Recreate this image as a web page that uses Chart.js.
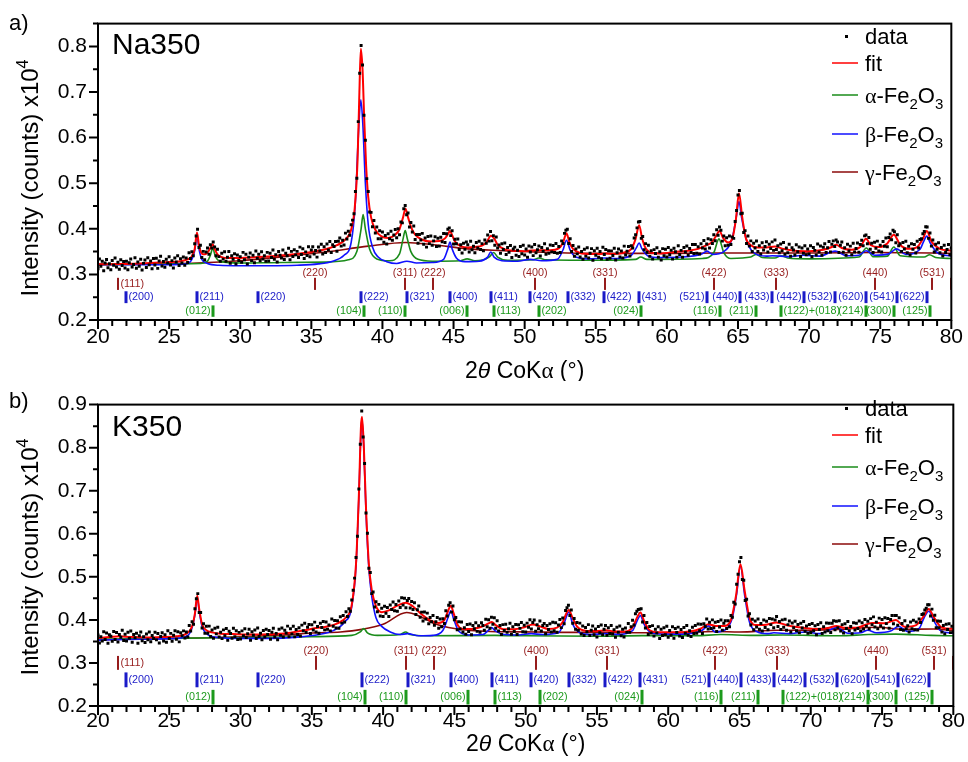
<!DOCTYPE html>
<html>
<head>
<meta charset="utf-8">
<script src="https://cdn.jsdelivr.net/npm/chart.js@4.4.0/dist/chart.umd.min.js"></script>
<style>
  html, body { margin: 0; padding: 0; background: #fff; }
  #wrap { width: 968px; height: 762px; }
  canvas { display: block; }
</style>
</head>
<body>
<div id="wrap">
  <canvas id="na" width="968" height="381"></canvas>
  <canvas id="k" width="968" height="381"></canvas>
</div>
<script>
// XRD scans, 2θ (CoKα) from 20° to 80° in 0.1° steps, raw counts
const scanStart = 20, scanStep = 0.1;

const na350Counts = [
  3125,3340,3180,3290,3080,3250,3325,3145,3235,3100,3307,3202,3362,3162,3267,3113,3319,3194,3284,3140,
  3290,3101,3257,3338,3160,3217,3367,3134,3272,3179,3330,3096,3242,3317,3152,3363,3209,3295,3126,3349,
  3205,3352,3132,3293,3397,3182,3284,3159,3331,3248,3385,3207,3302,3138,3359,3270,3408,3195,3344,3248,
  3380,3200,3360,3260,3475,3350,3495,3410,3670,3840,3990,3590,3640,3370,3505,3320,3490,3580,3440,3650,
  3580,3710,3600,3410,3550,3390,3290,3465,3335,3495,3290,3377,3500,3245,3410,3330,3455,3230,3425,3305,
  3390,3266,3483,3319,3441,3227,3379,3470,3302,3418,3255,3512,3354,3441,3298,3495,3337,3409,3286,3483,
  3295,3463,3370,3533,3330,3433,3270,3503,3420,3358,3535,3328,3465,3408,3575,3323,3505,3393,3540,3428,
  3505,3369,3598,3437,3561,3350,3494,3413,3607,3386,3535,3606,3447,3523,3379,3600,3516,3662,3448,3604,
  3480,3665,3535,3720,3480,3652,3610,3723,3510,3725,3800,3620,3750,3645,3905,3775,3945,3860,4090,4190,
  4330,4820,5110,6350,7410,8020,7590,6490,5940,5100,4820,4370,4360,4045,4180,3910,4040,3780,3955,3780,
  3930,3705,3855,3665,3890,3780,3945,3750,3865,3985,3805,4000,3870,4150,4130,4440,4510,4310,4345,4040,
  4140,3930,4060,3765,3875,3685,3875,3753,3900,3662,3800,3598,3830,3675,3840,3640,3735,3827,3610,3793,
  3620,3815,3715,3895,3700,3890,3990,4020,3850,3955,3665,3770,3670,3775,3545,3650,3470,3685,3550,3710,
  3650,3492,3729,3541,3618,3475,3701,3577,3728,3544,3675,3520,3755,3685,3865,3730,3940,3740,3850,3640,
  3820,3580,3645,3465,3670,3545,3690,3437,3590,3485,3635,3372,3555,3598,3422,3530,3394,3613,3452,3641,
  3425,3558,3376,3624,3492,3600,3412,3658,3474,3540,3625,3405,3590,3510,3670,3440,3565,3465,3647,3494,
  3635,3482,3680,3465,3610,3480,3735,3680,3900,3970,3990,3680,3780,3500,3635,3400,3560,3450,3600,3380,
  3502,3333,3550,3397,3585,3360,3465,3565,3310,3520,3420,3575,3375,3502,3344,3596,3438,3545,3330,3520,
  3353,3516,3414,3572,3315,3475,3555,3382,3513,3359,3620,3425,3510,3610,3405,3630,3580,3800,3870,4020,
  4150,4160,3790,3830,3540,3675,3485,3640,3395,3520,3335,3543,3456,3584,3377,3495,3315,3565,3410,3550,
  3380,3589,3433,3531,3335,3574,3497,3376,3630,3434,3527,3376,3590,3493,3622,3421,3569,3483,3657,3460,
  3655,3462,3605,3445,3670,3580,3745,3555,3665,3780,3580,3760,3680,3870,3740,3980,3860,4040,3970,3730,
  3840,3630,3805,3640,3840,3655,3820,3790,4160,4400,4740,4840,4330,4340,3920,3960,3680,3840,3620,3735,
  3500,3682,3580,3733,3500,3630,3450,3695,3535,3610,3715,3493,3662,3565,3713,3527,3755,3545,3630,3475,
  3665,3520,3700,3440,3580,3475,3660,3400,3585,3535,3425,3649,3498,3602,3391,3580,3464,3628,3432,3556,
  3450,3628,3386,3589,3527,3425,3668,3491,3624,3422,3595,3673,3481,3584,3722,3490,3660,3735,3610,3755,
  3710,3480,3640,3710,3485,3585,3420,3660,3515,3620,3430,3685,3490,3570,3690,3485,3655,3750,3630,3845,
  3865,3670,3810,3550,3685,3480,3705,3575,3730,3515,3640,3490,3720,3615,3800,3605,3810,3885,3760,3970,
  3935,3695,3870,3630,3670,3505,3700,3555,3725,3475,3615,3425,3670,3552,3655,3467,3725,3580,3765,3780,
  3890,3940,4045,4040,3790,3910,3620,3755,3490,3660,3550,3695,3475,3590,3405,3640,3480,3545,3657,3430,
  3580
];

const k350Counts = [
  3650,3462,3610,3507,3725,3547,3695,3458,3655,3618,3501,3729,3547,3705,3488,3660,3597,3759,3521,3668,
  3510,3713,3571,3740,3479,3663,3587,3691,3455,3629,3718,3517,3611,3475,3670,3540,3721,3492,3638,3569,
  3715,3536,3682,3463,3614,3700,3512,3654,3481,3748,3570,3687,3504,3641,3748,3550,3722,3489,3701,3633,
  3745,3580,3720,3600,3870,3740,3955,3900,4260,4490,4610,4170,4170,3810,3910,3690,3850,3690,3855,3615,
  3765,3575,3805,3675,3830,3601,3712,3565,3768,3631,3800,3524,3738,3682,3576,3805,3610,3750,3545,3710,
  3555,3745,3630,3795,3590,3680,3780,3525,3725,3645,3765,3570,3810,3615,3690,3540,3755,3600,3785,3660,
  3752,3549,3711,3808,3605,3687,3539,3782,3640,3810,3605,3760,3695,3855,3610,3795,3670,3850,3610,3775,
  3660,3816,3627,3878,3749,3920,3706,3827,3893,3684,3885,3764,3948,3717,3846,3690,3922,3824,3961,3768,
  3950,3780,3880,3745,4020,3850,3985,3810,3980,3805,4075,3925,4100,3950,4190,4080,4260,4200,4460,4690,
  4970,5450,5940,7040,8080,8850,8250,7630,6480,6010,5200,5100,4610,4650,4300,4420,4190,4360,4090,4270,
  4080,4315,4155,4290,4080,4345,4240,4415,4210,4355,4200,4437,4289,4516,4343,4500,4280,4450,4495,4275,
  4425,4240,4400,4125,4235,4320,4060,4180,3975,4185,4020,4157,3909,4055,3958,4101,3875,3955,4053,3805,
  4020,3840,4025,3915,4210,4090,4340,4400,4180,4320,4005,4055,3770,3955,3790,3950,3720,3815,3665,3895,
  3730,3905,3655,3870,3795,3935,3733,3866,3714,3935,3870,3761,4017,3840,4005,3805,4060,3900,4050,3805,
  3980,3740,3870,3660,3890,3755,3900,3710,3795,3920,3665,3840,3730,3892,3659,3886,3803,3940,3727,3874,
  3720,3925,3830,4005,3790,3940,3995,3735,3885,3795,3975,3740,3870,3915,3680,3870,3775,3910,3720,3945,
  3750,3935,3715,3880,4010,3820,4045,3910,4220,4280,4340,4100,4230,3920,4030,3780,3940,3760,3925,3670,
  3860,3635,3825,3725,3890,3635,3757,3860,3655,3790,3600,3848,3701,3879,3657,3780,3868,3640,3817,3683,
  3870,3671,3772,3598,3829,3715,3860,3630,3785,3605,3810,3710,3915,3710,3840,3990,3880,4145,4200,4240,
  4250,4260,3950,4100,3810,3940,3660,3845,3695,3867,3625,3781,3697,3839,3570,3780,3635,3815,3655,3850,
  3595,3751,3642,3843,3574,3800,3706,3832,3623,3779,3590,3822,3689,3871,3643,3750,3613,3831,3685,3870,
  3690,3905,3750,3900,3685,3910,3845,4020,3790,3945,3800,4000,3815,3945,3730,3965,3835,3995,3760,3920,
  3980,3800,3980,3840,4100,4060,4410,4370,4830,5060,5350,5450,4940,4920,4450,4480,4090,4145,3880,4015,
  3770,3975,3835,4020,3780,3915,3740,3995,3825,3970,3770,4030,3890,4020,3815,3995,4080,3845,3960,3775,
  4000,3830,4015,3760,3890,3975,3720,3930,3815,3970,3750,3891,3702,3923,3814,3960,3736,3857,3688,3894,
  3705,3918,3746,3864,3657,3895,3777,3934,3686,3843,3720,3930,3750,3920,3705,3920,3980,3768,3970,3820,
  3980,3740,3890,3695,3910,3800,3965,3750,3845,3680,3935,3765,3920,3800,3975,3745,3935,3790,4010,3855,
  3970,3792,4029,3890,4070,3834,3948,3792,4041,3865,4008,3811,4050,3913,4031,3805,4010,4100,3910,4100,
  4100,3875,4050,3775,3915,3760,3980,3793,3866,3719,3950,3793,3991,3769,3950,3765,4020,3940,4125,4140,
  4230,4270,4350,4350,4090,4250,3990,4110,3820,3975,3820,3970,3720,3870,3675,3900,3775,3912,3704,3852,
  3720
];

// fitted profiles: [2θ, counts]
const na350Fit = [
  [20,3220],[21,3225],[22,3230],[23,3240],[24,3255],[25,3270],[25.8,3290],[26.3,3330],[26.6,3400],[26.8,3560],
  [26.96,3920],[27.1,3640],[27.3,3460],[27.5,3440],[27.75,3500],[27.9,3580],[28.06,3660],[28.2,3560],[28.4,3440],
  [28.7,3380],[29.2,3360],[30,3360],[31,3375],[32,3395],[33,3420],[34,3450],[35,3490],[36,3550],[36.8,3640],
  [37.4,3770],[37.8,3980],[38.05,4450],[38.25,5500],[38.38,7000],[38.48,7950],[38.6,7500],[38.72,6400],[38.85,5400],
  [39,4700],[39.2,4250],[39.5,3980],[39.9,3840],[40.4,3800],[40.9,3870],[41.2,3990],[41.45,4250],[41.62,4440],
  [41.8,4250],[42,4050],[42.3,3870],[42.8,3760],[43.4,3720],[44,3730],[44.4,3790],[44.6,3880],[44.75,3950],
  [44.9,3860],[45.1,3720],[45.5,3620],[46,3590],[46.5,3600],[47,3630],[47.35,3720],[47.62,3850],[47.85,3790],
  [48.1,3650],[48.6,3550],[49.2,3520],[50,3510],[50.5,3525],[51,3530],[51.8,3530],[52.4,3570],[52.7,3700],
  [52.94,3900],[53.15,3700],[53.4,3560],[53.9,3470],[54.6,3450],[55.2,3450],[55.7,3460],[56.3,3450],[57,3480],
  [57.5,3560],[57.8,3780],[58.05,4080],[58.25,3800],[58.5,3580],[59,3470],[59.6,3460],[60.5,3490],[61.5,3520],
  [62.2,3560],[62.8,3640],[63.2,3720],[63.45,3840],[63.7,3950],[63.95,3800],[64.3,3700],[64.6,3780],[64.85,4200],
  [65.07,4780],[65.3,4250],[65.55,3800],[65.9,3640],[66.4,3590],[67,3590],[67.6,3610],[68.2,3560],[69,3520],
  [70,3510],[71,3540],[71.6,3600],[71.9,3650],[72.3,3580],[73,3540],[73.6,3600],[74,3780],[74.35,3640],
  [74.9,3600],[75.5,3680],[75.96,3870],[76.4,3650],[77,3560],[77.6,3600],[78,3780],[78.28,3950],[78.6,3720],
  [79.2,3560],[80,3520]
];
const na350Alpha = [
  [20,3215],[24,3225],[27.2,3240],[27.7,3290],[27.9,3420],[28.07,3570],[28.25,3400],[28.6,3280],[30,3250],
  [33,3260],[36,3270],[37.6,3320],[38.2,3500],[38.5,4000],[38.64,4310],[38.8,4000],[39.1,3550],[39.6,3340],
  [40.5,3300],[41.2,3450],[41.45,3780],[41.6,3960],[41.75,3780],[42,3500],[42.5,3330],[43.5,3290],[45.5,3300],
  [45.95,3340],[46.5,3300],[47.5,3380],[47.82,3480],[48.1,3380],[48.8,3310],[50.6,3320],[51,3360],[51.5,3320],
  [54,3310],[57.8,3330],[58.16,3380],[58.6,3330],[62.5,3350],[63.3,3480],[63.66,3780],[64,3480],[64.5,3350],
  [65.9,3380],[66.27,3440],[66.7,3370],[67.6,3360],[68.03,3410],[68.5,3360],[70,3340],[73.5,3380],[74.03,3580],
  [74.5,3390],[75.5,3400],[75.96,3600],[76.4,3410],[78.1,3380],[78.47,3430],[78.9,3370],[80,3350]
];
const na350Beta = [
  [20,3215],[24,3210],[26.2,3230],[26.6,3330],[26.8,3520],[26.96,3860],[27.1,3560],[27.3,3330],[27.7,3240],
  [28.5,3200],[30,3190],[32,3190],[34,3200],[35.5,3230],[36.5,3290],[37.3,3420],[37.8,3700],[38.1,4600],
  [38.3,6000],[38.48,6830],[38.62,6300],[38.8,5000],[39,4100],[39.3,3600],[39.7,3380],[40.3,3280],[41,3240],
  [41.72,3290],[42.4,3250],[43.5,3260],[44.3,3330],[44.6,3560],[44.75,3710],[44.9,3560],[45.2,3360],[45.8,3280],
  [46.8,3290],[47.4,3380],[47.62,3490],[47.85,3380],[48.4,3300],[49.5,3290],[50.38,3330],[51.2,3300],[52.3,3330],
  [52.7,3540],[52.94,3750],[53.2,3530],[53.6,3380],[54.5,3340],[55.58,3360],[56.5,3350],[57.5,3420],[57.85,3580],
  [58.05,3690],[58.25,3560],[58.7,3400],[59.5,3370],[61,3380],[62.4,3440],[62.83,3510],[63.2,3440],[64,3500],
  [64.6,3800],[64.9,4300],[65.07,4600],[65.25,4250],[65.6,3750],[66.1,3480],[67,3400],[67.41,3410],[68.5,3390],
  [69.63,3420],[70.7,3400],[71.83,3510],[72.6,3410],[73.5,3420],[74,3520],[74.6,3420],[75.6,3450],[76.15,3560],
  [76.8,3440],[77.8,3550],[78.05,3720],[78.28,3840],[78.5,3700],[79,3480],[80,3400]
];
const na350Gamma = [
  [20,3220],[24,3235],[27,3250],[30,3300],[33,3390],[36,3490],[39,3620],[41.65,3700],[43.6,3650],[46,3560],
  [48.5,3520],[50.75,3490],[53,3470],[55.7,3460],[58,3460],[60,3460],[63.3,3470],[65,3470],[67.6,3470],
  [70,3470],[74.6,3480],[78.6,3470],[80,3460]
];

const k350Fit = [
  [20,3580],[20.8,3600],[21.5,3620],[22.3,3600],[23.5,3590],[24.5,3600],[25.5,3620],[26.2,3680],[26.6,3850],
  [26.8,4150],[26.96,4560],[27.1,4250],[27.3,3900],[27.6,3760],[28,3710],[28.6,3680],[29.5,3670],[31,3660],
  [32.5,3670],[33.5,3700],[34.5,3760],[35.3,3810],[36,3840],[36.8,3920],[37.4,4060],[37.8,4350],[38.1,5300],
  [38.3,6900],[38.45,8500],[38.52,8720],[38.65,8000],[38.8,6600],[39,5300],[39.2,4700],[39.5,4320],[39.9,4180],
  [40.4,4220],[41,4330],[41.6,4400],[42.1,4310],[42.7,4130],[43.3,3990],[43.9,3930],[44.3,4000],[44.55,4200],
  [44.75,4330],[44.95,4150],[45.2,3900],[45.6,3790],[46.2,3790],[46.9,3840],[47.4,3920],[47.62,3950],[47.9,3880],
  [48.5,3780],[49.2,3780],[49.9,3830],[50.5,3890],[51,3850],[51.6,3790],[52.2,3820],[52.6,3950],[52.85,4150],
  [53.03,4230],[53.25,4080],[53.6,3850],[54.2,3750],[55,3740],[55.6,3760],[56.3,3730],[57,3730],[57.5,3830],
  [57.85,4080],[58.05,4170],[58.3,3980],[58.7,3760],[59.4,3710],[60.5,3710],[61.5,3730],[62.3,3800],[62.8,3900],
  [63.3,3860],[63.9,3860],[64.4,4000],[64.75,4550],[65.07,5290],[65.35,4700],[65.7,4050],[66.1,3880],[66.7,3880],
  [67.6,3940],[68.4,3870],[69.2,3830],[70.2,3790],[71.2,3810],[71.8,3860],[72.3,3820],[73.2,3820],[74.3,3930],
  [75.2,3920],[75.96,4000],[76.6,3840],[77.4,3880],[77.95,4100],[78.28,4250],[78.6,4080],[79.2,3820],[80,3790]
];
const k350Alpha = [
  [20,3550],[25,3570],[30,3590],[35,3610],[37.8,3640],[38.4,3720],[38.64,3800],[38.9,3700],[39.6,3640],
  [41.2,3660],[41.58,3720],[41.9,3660],[43,3630],[47.82,3640],[50,3630],[55,3620],[58.16,3635],[62,3630],
  [63.66,3660],[66,3640],[68.03,3650],[72,3630],[74.03,3660],[75.96,3670],[78.47,3640],[80,3630]
];
const k350Beta = [
  [20,3530],[23,3550],[25.5,3570],[26.3,3640],[26.6,3820],[26.8,4120],[26.96,4520],[27.1,4200],[27.3,3850],
  [27.7,3660],[28.5,3590],[30,3570],[32,3570],[34,3600],[35.5,3660],[36.5,3750],[37.3,3950],[37.8,4300],
  [38.1,5250],[38.3,6850],[38.45,8400],[38.52,8650],[38.65,7950],[38.8,6500],[39,5200],[39.2,4550],[39.5,4050],
  [39.9,3850],[40.5,3720],[41.2,3660],[41.72,3680],[42.5,3630],[43.5,3640],[44.2,3760],[44.55,4050],[44.75,4210],
  [44.95,4020],[45.3,3740],[46,3650],[47,3660],[47.4,3760],[47.62,3820],[47.85,3750],[48.5,3660],[49.5,3650],
  [50.38,3680],[51.2,3660],[52.3,3700],[52.7,3930],[53.03,4180],[53.3,3900],[53.8,3700],[54.6,3660],[55.58,3680],
  [56.5,3660],[57.5,3750],[57.85,4000],[58.05,4100],[58.3,3900],[58.8,3700],[59.6,3670],[61,3670],[62.3,3740],
  [62.83,3860],[63.3,3720],[64,3770],[64.5,4050],[64.8,4600],[65.07,5250],[65.35,4600],[65.7,3950],[66.2,3730],
  [67,3680],[67.41,3700],[68.5,3680],[69.63,3720],[70.6,3680],[71.83,3820],[72.6,3690],[73.5,3700],[74,3760],
  [74.6,3700],[75.6,3740],[76.15,3850],[76.8,3730],[77.6,3800],[77.95,4050],[78.28,4200],[78.6,4000],[79.1,3750],
  [80,3690]
];
const k350Gamma = [
  [20,3540],[23,3560],[27,3580],[30,3610],[33,3650],[35.3,3700],[37,3720],[38.5,3780],[40,3900],[41.65,4170],
  [42.6,4080],[43.5,3930],[45,3800],[47.5,3730],[50.75,3720],[53,3710],[55.7,3710],[58,3700],[60,3700],
  [63.3,3730],[65,3720],[67.6,3760],[70,3760],[72,3780],[74.6,3830],[76.5,3780],[78.6,3790],[80,3750]
];

// reference reflections (2θ for CoKα) and their indices
const alphaPos = [28.07, 38.70, 41.60, 45.95, 47.82, 51.00, 58.16, 63.70, 66.27, 68.03, 74.03, 75.96, 78.47];
const alphaHkl = ['(012)','(104)','(110)','(006)','(113)','(202)','(024)','(116)','(211)','(122)+(018)','(214)','(300)','(125)'];
const betaPos = [21.94, 26.96, 31.23, 38.49, 41.72, 44.75, 47.62, 50.38, 53.03, 55.58, 58.05, 62.83, 65.14, 67.41, 69.63, 71.83, 74.00, 76.15, 78.28];
const betaHkl = ['(200)','(211)','(220)','(222)','(321)','(400)','(411)','(420)','(332)','(422)','(431)','(521)','(440)','(433)','(442)','(532)','(620)','(541)','(622)'];
const gammaPos = [21.38, 35.28, 41.62, 43.57, 50.75, 55.68, 63.31, 67.64, 74.60, 78.65, 79.98];
const gammaHkl = ['(111)','(220)','(311)','(222)','(400)','(331)','(422)','(333)','(440)','(531)',''];

const SANS = '"Liberation Sans", Arial, sans-serif';
const SERIF = '"Liberation Serif", "Times New Roman", serif';
const RED = '#ff0000', GREEN = '#1a8c1a', BLUE = '#1010ff', DARKRED = '#8b0a0a';
const MARK = { alpha: '#1c9a1c', beta: '#1a1ac8', gamma: '#961c1c' };

function curve(pts) { return pts.map(p => ({ x: p[0], y: p[1] / 1e4 })); }
function scan(counts) {
  return counts.map((c, i) => ({ x: +(scanStart + i * scanStep).toFixed(2), y: c / 1e4 }));
}

// text runs: [text, kind] with kind '' | 'sub' | 'sup' | 'it' | 'gr'
function runFont(kind, size) {
  if (kind === 'sub' || kind === 'sup') return `${Math.round(size * 0.66)}px ${SANS}`;
  if (kind === 'it') return `italic ${size}px ${SANS}`;
  if (kind === 'gr') return `${size}px ${SERIF}`;
  return `${size}px ${SANS}`;
}
function runsWidth(ctx, runs, size) {
  let w = 0;
  runs.forEach(([t, k]) => { ctx.font = runFont(k, size); w += ctx.measureText(t).width; });
  return w;
}
function drawRuns(ctx, runs, x, y, size) {
  ctx.textBaseline = 'alphabetic';
  ctx.textAlign = 'left';
  runs.forEach(([t, k]) => {
    ctx.font = runFont(k, size);
    let dy = 0;
    if (k === 'sub') dy = size * 0.28;
    if (k === 'sup') dy = -size * 0.42;
    ctx.fillText(t, x, y + dy);
    x += ctx.measureText(t).width;
  });
}

const legendItems = [
  { kind: 'dot', runs: [['data', '']] },
  { color: RED, runs: [['fit', '']] },
  { color: GREEN, runs: [['α', 'gr'], ['-Fe', ''], ['2', 'sub'], ['O', ''], ['3', 'sub']] },
  { color: BLUE, runs: [['β', 'gr'], ['-Fe', ''], ['2', 'sub'], ['O', ''], ['3', 'sub']] },
  { color: DARKRED, runs: [['γ', 'gr'], ['-Fe', ''], ['2', 'sub'], ['O', ''], ['3', 'sub']] }
];

const decor = {
  id: 'decor',
  afterDraw(chart, args, o) {
    const { ctx, chartArea: a, scales: { x, y } } = chart;
    ctx.save();

    // reflection markers
    ctx.save();
    ctx.beginPath();
    ctx.rect(a.left, a.top, a.right - a.left, a.bottom - a.top);
    ctx.clip();
    const phases = [
      { pos: gammaPos, hkl: gammaHkl, row: o.rows.gamma, color: MARK.gamma, w: 2 },
      { pos: betaPos, hkl: betaHkl, row: o.rows.beta, color: MARK.beta, w: 3 },
      { pos: alphaPos, hkl: alphaHkl, row: o.rows.alpha, color: MARK.alpha, w: 3 }
    ];
    ctx.font = `10.8px ${SANS}`;
    ctx.textBaseline = 'middle';
    phases.forEach((ph, pi) => {
      ctx.fillStyle = ph.color;
      const top = y.getPixelForValue(ph.row.tick[1]);
      const bot = y.getPixelForValue(ph.row.tick[0]);
      ph.pos.forEach((p, i) => {
        const px = Math.round(x.getPixelForValue(p));
        ctx.fillRect(px - ph.w / 2, top, ph.w, bot - top);
        const label = ph.hkl[i];
        if (!label) return;
        const mid = (top + bot) / 2;
        let side;
        if (pi === 0) side = o.rightLabels.includes('g' + label) ? 'right' : 'top';
        else if (pi === 1) side = o.leftLabels.includes('b' + label) ? 'left' : 'right';
        else side = o.rightLabels.includes('a' + label) ? 'right' : 'left';
        if (side === 'top') {
          ctx.textAlign = 'center';
          ctx.fillText(label, px, y.getPixelForValue(ph.row.label));
        } else if (side === 'right') {
          ctx.textAlign = 'left';
          ctx.fillText(label, px + 2.5, mid);
        } else {
          ctx.textAlign = 'right';
          ctx.fillText(label, px - 2.5, mid);
        }
      });
    });
    ctx.restore();

    // frame and tick marks
    ctx.strokeStyle = '#000';
    ctx.lineWidth = 2;
    ctx.strokeRect(a.left, a.top, a.right - a.left, a.bottom - a.top);
    ctx.beginPath();
    for (let v = 20; v <= 80; v++) {
      const px = x.getPixelForValue(v);
      const len = v % 5 === 0 ? 9 : 6;
      ctx.moveTo(px, a.bottom);
      ctx.lineTo(px, a.bottom + len);
    }
    for (let k = 4; k * 0.05 <= y.max + 1e-9; k++) {
      const py = y.getPixelForValue(k * 0.05);
      const len = k % 2 === 0 ? 9 : 5;
      ctx.moveTo(a.left, py);
      ctx.lineTo(a.left - len, py);
    }
    ctx.stroke();

    ctx.fillStyle = '#000';
    // panel letter and sample name
    ctx.font = `22px ${SANS}`;
    ctx.textAlign = 'left';
    ctx.textBaseline = 'alphabetic';
    ctx.fillText(o.panel, 9, o.panelY);
    ctx.font = `30px ${SANS}`;
    ctx.fillText(o.sample, 112, o.sampleY);

    // y axis title
    const yRuns = [['Intensity (counts) x10', ''], ['4', 'sup']];
    const yw = runsWidth(ctx, yRuns, 24);
    ctx.save();
    ctx.translate(38, o.yTitleY);
    ctx.rotate(-Math.PI / 2);
    drawRuns(ctx, yRuns, -yw / 2, 0, 24);
    ctx.restore();

    // x axis title
    const xRuns = [['2', ''], ['θ', 'it'], [' CoK', ''], ['α', 'gr'], [' (°)', '']];
    const xw = runsWidth(ctx, xRuns, 23);
    drawRuns(ctx, xRuns, (a.left + a.right) / 2 - xw / 2, o.xTitleY, 23);

    // legend
    legendItems.forEach((it, i) => {
      const ly = o.legendY[i];
      if (it.kind === 'dot') {
        ctx.fillStyle = '#000';
        ctx.fillRect(845, ly - 1, 3, 3);
      } else {
        ctx.strokeStyle = it.color;
        ctx.lineWidth = 1.5;
        ctx.beginPath();
        ctx.moveTo(832, ly);
        ctx.lineTo(858, ly);
        ctx.stroke();
      }
      ctx.fillStyle = '#000';
      drawRuns(ctx, it.runs, 865, ly + 8, 22);
    });
    ctx.restore();
  }
};

function buildChart(id, counts, fit, alpha, beta, gamma, cfg) {
  const line = (label, pts, color, width, order) => ({
    label, data: curve(pts), showLine: true, borderColor: color, borderWidth: width,
    pointRadius: 0, cubicInterpolationMode: 'monotone', fill: false, order
  });
  return new Chart(document.getElementById(id), {
    type: 'scatter',
    data: {
      datasets: [
        { label: 'data', data: scan(counts), showLine: false, pointStyle: 'rect', pointRadius: 2.1,
          backgroundColor: '#000', borderWidth: 0, order: 0 },
        line('fit', fit, RED, 2, 1),
        line('β-Fe2O3', beta, BLUE, 1.6, 2),
        line('α-Fe2O3', alpha, GREEN, 1.6, 3),
        line('γ-Fe2O3', gamma, DARKRED, 1.6, 4)
      ]
    },
    options: {
      responsive: false,
      animation: false,
      devicePixelRatio: 1,
      events: [],
      layout: { padding: { top: cfg.padTop, right: 13, left: 0, bottom: 0 } },
      plugins: { legend: { display: false }, tooltip: { enabled: false }, decor: cfg },
      scales: {
        x: {
          type: 'linear', min: 20, max: 80,
          ticks: { stepSize: 5, color: '#000', font: { family: SANS, size: 21 }, padding: cfg.xPad, maxRotation: 0, includeBounds: false },
          grid: { display: false, drawTicks: false }, border: { display: false },
          afterFit: s => { s.height = cfg.xHeight; }
        },
        y: {
          type: 'linear', min: 0.2, max: cfg.yMax,
          ticks: { stepSize: 0.1, color: '#000', font: { family: SANS, size: 21 }, padding: 11, includeBounds: false,
                   callback: v => v.toFixed(1) },
          grid: { display: false, drawTicks: false }, border: { display: false },
          afterFit: s => { s.width = 98; }
        }
      }
    },
    plugins: [decor]
  });
}

const labelSides = {
  rightLabels: ['g(111)', 'a(113)', 'a(202)', 'a(122)+(018)'],
  leftLabels: ['b(521)', 'b(440)', 'b(433)', 'b(442)', 'b(532)', 'b(620)', 'b(541)', 'b(622)']
};

buildChart('na', na350Counts, na350Fit, na350Alpha, na350Beta, na350Gamma, Object.assign({
  panel: 'a)', panelY: 30, sample: 'Na350', sampleY: 54,
  yMax: 0.85, padTop: 15, xHeight: 61, xPad: 5, yTitleY: 178, xTitleY: 378,
  legendY: [36, 63, 95, 134, 172],
  rows: {
    gamma: { tick: [0.266, 0.2925], label: 0.304 },
    beta: { tick: [0.237, 0.263] },
    alpha: { tick: [0.207, 0.232] }
  }
}, labelSides));

buildChart('k', k350Counts, k350Fit, k350Alpha, k350Beta, k350Gamma, Object.assign({
  panel: 'b)', panelY: 27, sample: 'K350', sampleY: 55,
  yMax: 0.9, padTop: 22, xHeight: 56, xPad: 3, yTitleY: 176, xTitleY: 370,
  legendY: [27, 54, 86, 125, 163],
  rows: {
    gamma: { tick: [0.284, 0.3163], label: 0.328 },
    beta: { tick: [0.2435, 0.278] },
    alpha: { tick: [0.2035, 0.2375] }
  }
}, labelSides));
</script>
</body>
</html>
